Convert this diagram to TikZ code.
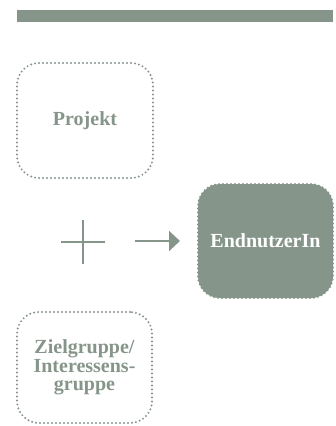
\documentclass[tikz,border=0pt]{standalone}
\usepackage{fontspec}
\setmainfont{Liberation Serif}
\usetikzlibrary{arrows.meta}
\definecolor{sage}{RGB}{134,149,138}
\tikzset{
  dotbox/.style={draw=sage, line width=2.2pt, dash pattern=on 0pt off 4pt, line cap=round,
    rounded corners=22pt, align=center, text=sage, font=\fontsize{20}{18.5}\selectfont\bfseries,
    inner sep=0pt},
  filledbox/.style={dotbox, fill=sage, text=white},
  sym/.style={draw=sage, line width=2pt}
}
\begin{document}
\begin{tikzpicture}[x=1pt,y=-1pt]
\useasboundingbox (0,0) rectangle (335,426);
\fill[sage] (17,10) rectangle (333,22);
\node[dotbox, minimum width=136pt, minimum height=115pt] (proj) at (85,120.5) {Projekt};
\node[dotbox, minimum width=135pt, minimum height=111pt] (ziel) at (84.5,367.5) {Zielgruppe/\\Interessens-\\gruppe};
\node[filledbox, minimum width=135pt, minimum height=114pt] (end) at (265.5,241) {EndnutzerIn};
\coordinate (plus) at (83,242);
\draw[sym] ([xshift=-22pt]plus) -- ([xshift=22pt]plus);
\draw[sym] ([yshift=-22pt]plus) -- ([yshift=22pt]plus);
\coordinate (astart) at (135,241);
\coordinate (aend) at (180,241);
\draw[sym, -{Triangle[length=11pt,width=20pt]}] (astart) -- (aend);
\end{tikzpicture}
\end{document}
